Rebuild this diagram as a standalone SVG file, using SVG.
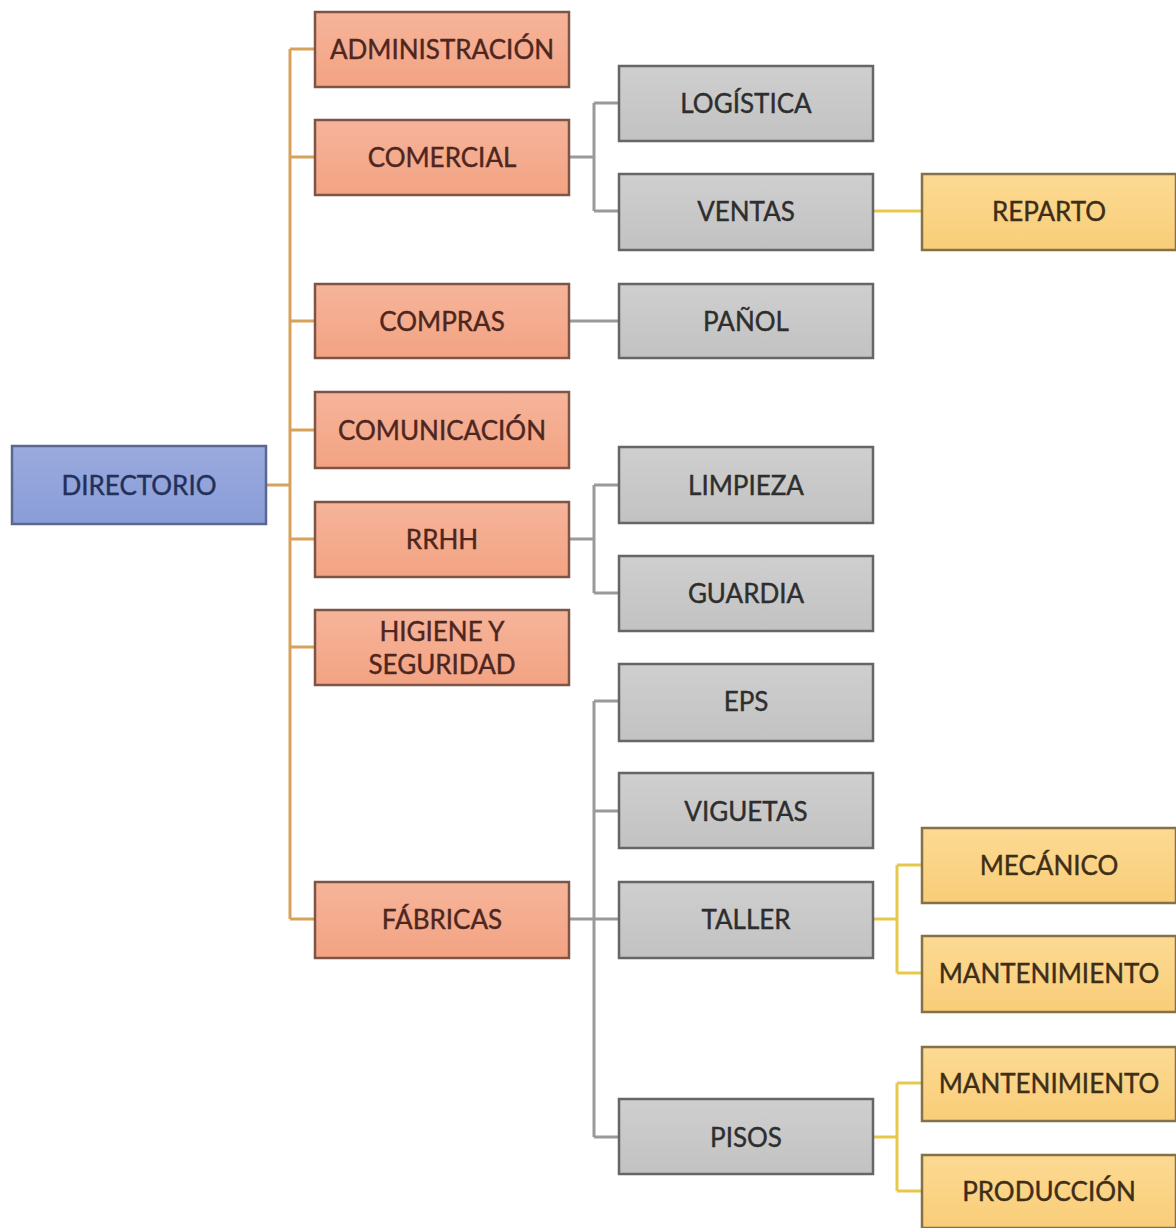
<svg xmlns="http://www.w3.org/2000/svg" width="1176" height="1228" viewBox="0 0 1176 1228">
<defs>
<linearGradient id="gO" x1="0" y1="0" x2="0" y2="1"><stop offset="0" stop-color="#F6B49A"/><stop offset="1" stop-color="#F3A383"/></linearGradient>
<linearGradient id="gG" x1="0" y1="0" x2="0" y2="1"><stop offset="0" stop-color="#CFCFCF"/><stop offset="1" stop-color="#C2C2C2"/></linearGradient>
<linearGradient id="gY" x1="0" y1="0" x2="0" y2="1"><stop offset="0" stop-color="#FCDA93"/><stop offset="1" stop-color="#F9CD78"/></linearGradient>
<linearGradient id="gB" x1="0" y1="0" x2="0" y2="1"><stop offset="0" stop-color="#9AAADE"/><stop offset="1" stop-color="#8A9DD8"/></linearGradient>
<style>
.box{stroke-width:2.5}
.o{fill:url(#gO);stroke:#7E5446}
.g{fill:url(#gG);stroke:#666666}
.y{fill:url(#gY);stroke:#857148}
.b{fill:url(#gB);stroke:#5A6890}
text{font-family:Lato,"Open Sans","Liberation Sans",sans-serif;font-size:26px;text-anchor:middle;dominant-baseline:central;stroke-width:0.4}
.to{fill:#4E2620;stroke:#4E2620}
.tg{fill:#2E2E2E;stroke:#2E2E2E}
.ty{fill:#3E2E18;stroke:#3E2E18}
.tb{fill:#22305A;stroke:#22305A}
.co{stroke:#D6A25A;stroke-width:3;fill:none}
.cg{stroke:#9A9A9A;stroke-width:3;fill:none}
.cy{stroke:#E8C84A;stroke-width:3;fill:none}
</style>
</defs>
<rect width="1176" height="1228" fill="#FFFFFF"/>
<g id="connectors">
<path class="co" d="M266 485H290M290 49V919M290 49H315M290 157H315M290 321H315M290 430H315M290 539H315M290 647H315M290 919H315"/>
<path class="cg" d="M569 157H594M594 103V211M594 103H619M594 211H619"/>
<path class="cg" d="M569 321H619"/>
<path class="cg" d="M569 539H594M594 485V593M594 485H619M594 593H619"/>
<path class="cg" d="M569 919H619M594 701V1137M594 701H619M594 811H619M594 1137H619"/>
<path class="cy" d="M873 211H922"/>
<path class="cy" d="M873 919H897M897 865V973M897 865H922M897 973H922"/>
<path class="cy" d="M873 1137H897M897 1083V1191M897 1083H922M897 1191H922"/>
</g>
<g id="directorio"><rect class="box b" x="12" y="446" width="254" height="78"/><text class="tb" x="139" y="485">DIRECTORIO</text></g>
<g id="administracion"><rect class="box o" x="315" y="12" width="254" height="75"/><text class="to" x="442" y="49">ADMINISTRACIÓN</text></g>
<g id="comercial"><rect class="box o" x="315" y="120" width="254" height="75"/><text class="to" x="442" y="157">COMERCIAL</text></g>
<g id="compras"><rect class="box o" x="315" y="284" width="254" height="74"/><text class="to" x="442" y="321">COMPRAS</text></g>
<g id="comunicacion"><rect class="box o" x="315" y="392" width="254" height="76"/><text class="to" x="442" y="430">COMUNICACIÓN</text></g>
<g id="rrhh"><rect class="box o" x="315" y="502" width="254" height="75"/><text class="to" x="442" y="539">RRHH</text></g>
<g id="higiene"><rect class="box o" x="315" y="610" width="254" height="75"/><text class="to" x="442" y="631">HIGIENE Y</text><text class="to" x="442" y="664">SEGURIDAD</text></g>
<g id="fabricas"><rect class="box o" x="315" y="882" width="254" height="76"/><text class="to" x="442" y="919">FÁBRICAS</text></g>
<g id="logistica"><rect class="box g" x="619" y="66" width="254" height="75"/><text class="tg" x="746" y="103">LOGÍSTICA</text></g>
<g id="ventas"><rect class="box g" x="619" y="174" width="254" height="76"/><text class="tg" x="746" y="211">VENTAS</text></g>
<g id="panol"><rect class="box g" x="619" y="284" width="254" height="74"/><text class="tg" x="746" y="321">PAÑOL</text></g>
<g id="limpieza"><rect class="box g" x="619" y="447" width="254" height="76"/><text class="tg" x="746" y="485">LIMPIEZA</text></g>
<g id="guardia"><rect class="box g" x="619" y="556" width="254" height="75"/><text class="tg" x="746" y="593">GUARDIA</text></g>
<g id="eps"><rect class="box g" x="619" y="664" width="254" height="77"/><text class="tg" x="746" y="701">EPS</text></g>
<g id="viguetas"><rect class="box g" x="619" y="773" width="254" height="75"/><text class="tg" x="746" y="811">VIGUETAS</text></g>
<g id="taller"><rect class="box g" x="619" y="882" width="254" height="76"/><text class="tg" x="746" y="919">TALLER</text></g>
<g id="pisos"><rect class="box g" x="619" y="1099" width="254" height="75"/><text class="tg" x="746" y="1137">PISOS</text></g>
<g id="reparto"><rect class="box y" x="922" y="174" width="254" height="76"/><text class="ty" x="1049" y="211">REPARTO</text></g>
<g id="mecanico"><rect class="box y" x="922" y="828" width="254" height="75"/><text class="ty" x="1049" y="865">MECÁNICO</text></g>
<g id="mantenimiento1"><rect class="box y" x="922" y="936" width="254" height="76"/><text class="ty" x="1049" y="973">MANTENIMIENTO</text></g>
<g id="mantenimiento2"><rect class="box y" x="922" y="1047" width="254" height="74"/><text class="ty" x="1049" y="1083">MANTENIMIENTO</text></g>
<g id="produccion"><rect class="box y" x="922" y="1155" width="254" height="73"/><text class="ty" x="1049" y="1191">PRODUCCIÓN</text></g>
</svg>
